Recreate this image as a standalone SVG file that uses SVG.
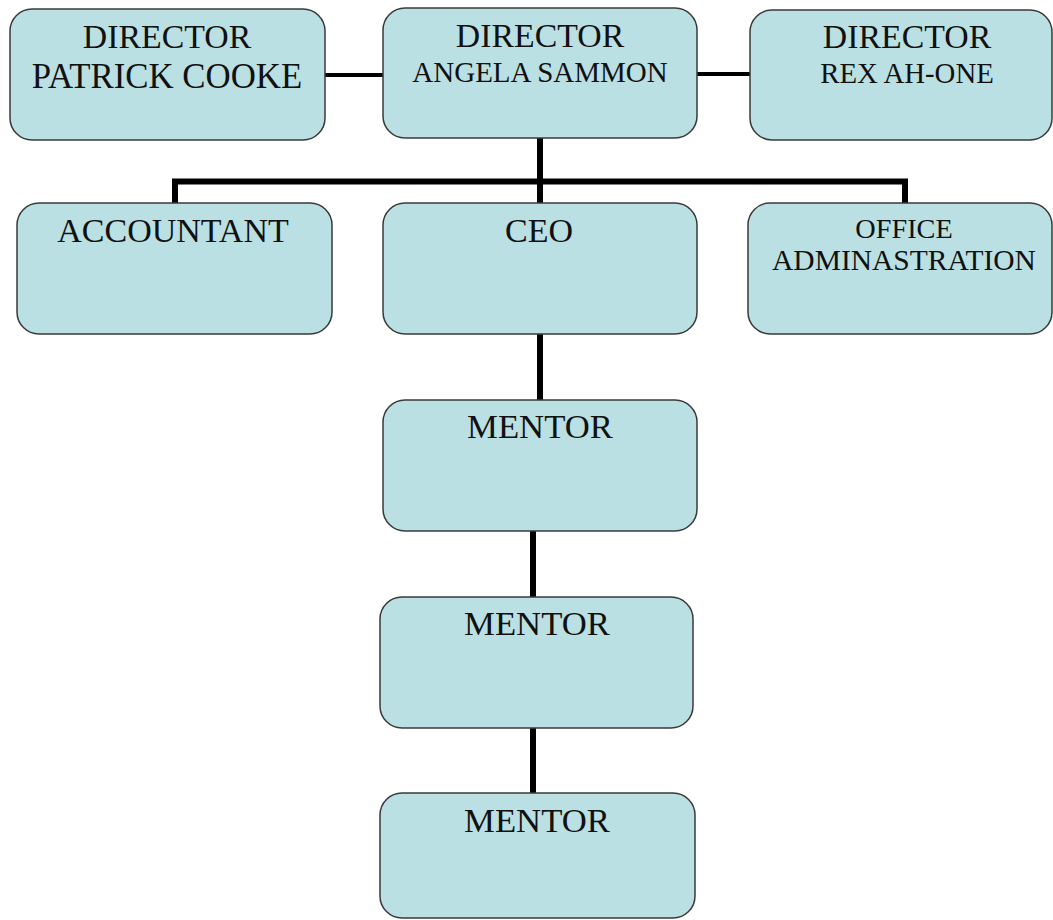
<svg xmlns="http://www.w3.org/2000/svg" width="1053" height="920" viewBox="0 0 1053 920">
<style>
.box{fill:#bae0e3;stroke:#3a3a3a;stroke-width:1.5}
.t{font-family:'Liberation Serif','Times New Roman',Times,serif;fill:#111;text-anchor:middle}
.c{stroke:#000;fill:none;stroke-linecap:butt}
</style>
<rect width="1053" height="920" fill="#fff"/>
<g id="connectors">
<line class="c" x1="325" y1="75" x2="384" y2="75" stroke-width="4"/>
<line class="c" x1="696" y1="74" x2="751" y2="74" stroke-width="4"/>
<polyline class="c" points="175,204 175,181.5 905,181.5 905,204" stroke-width="6"/>
<line class="c" x1="540" y1="138" x2="540" y2="204" stroke-width="6"/>
<line class="c" x1="540" y1="334" x2="540" y2="401" stroke-width="6"/>
<line class="c" x1="533" y1="531" x2="533" y2="598" stroke-width="6"/>
<line class="c" x1="533" y1="728" x2="533" y2="794" stroke-width="6"/>
</g>
<g id="dir-patrick">
<rect class="box" x="10" y="9" width="315" height="131" rx="22"/>
<text class="t" x="167" y="48" font-size="33.8">DIRECTOR</text>
<text class="t" x="167" y="88" font-size="34.8">PATRICK COOKE</text>
</g>
<g id="dir-angela">
<rect class="box" x="383" y="8" width="314" height="130" rx="22"/>
<text class="t" x="540" y="47" font-size="33.8">DIRECTOR</text>
<text class="t" x="540" y="82" font-size="29">ANGELA SAMMON</text>
</g>
<g id="dir-rex">
<rect class="box" x="750" y="10" width="302" height="130" rx="22"/>
<text class="t" x="907" y="48" font-size="33.8">DIRECTOR</text>
<text class="t" x="907" y="83" font-size="28.8">REX AH-ONE</text>
</g>
<g id="accountant">
<rect class="box" x="17" y="203" width="315" height="131" rx="22"/>
<text class="t" x="173" y="242" font-size="34">ACCOUNTANT</text>
</g>
<g id="ceo">
<rect class="box" x="383" y="203" width="314" height="131" rx="22"/>
<text class="t" x="539" y="242" font-size="34">CEO</text>
</g>
<g id="office">
<rect class="box" x="748" y="203" width="304" height="131" rx="22"/>
<text class="t" x="904" y="238" font-size="28.3">OFFICE</text>
<text class="t" x="904" y="270" font-size="29.5">ADMINASTRATION</text>
</g>
<g id="mentor1">
<rect class="box" x="383" y="400" width="314" height="131" rx="22"/>
<text class="t" x="540" y="438" font-size="34.7">MENTOR</text>
</g>
<g id="mentor2">
<rect class="box" x="380" y="597" width="313" height="131" rx="22"/>
<text class="t" x="537" y="635" font-size="34.7">MENTOR</text>
</g>
<g id="mentor3">
<rect class="box" x="380" y="793" width="315" height="125" rx="22"/>
<text class="t" x="537" y="832" font-size="34.7">MENTOR</text>
</g>
</svg>
